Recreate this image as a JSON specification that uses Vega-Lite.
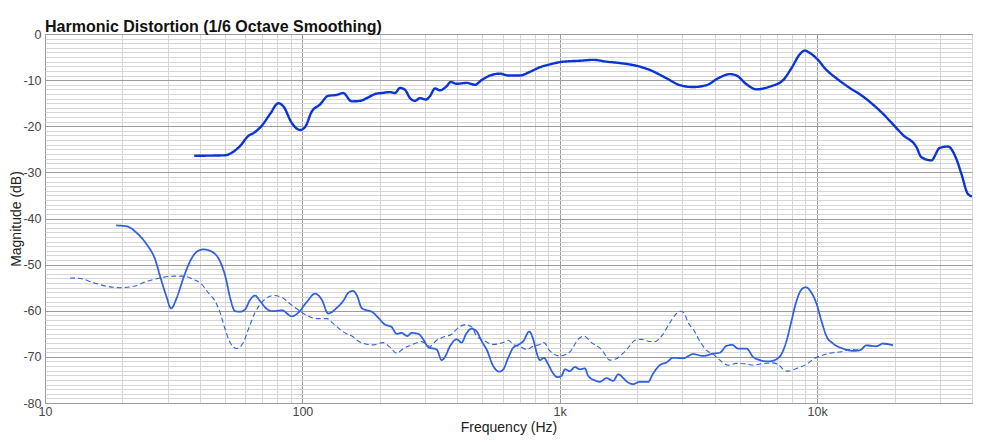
{
  "$schema": "https://vega.github.io/schema/vega-lite/v6.json",
  "width": 927,
  "height": 369,
  "autosize": {"type": "none"},
  "padding": {"left": 45, "top": 34, "right": 32, "bottom": 39},
  "background": "white",
  "config": {
    "view": {"stroke": "#8a8a8a", "strokeWidth": 1},
    "font": "Liberation Sans"
  },
  "title": {
    "text": "Harmonic Distortion (1/6 Octave Smoothing)",
    "anchor": "start",
    "frame": "group",
    "fontSize": 16,
    "fontWeight": "bold",
    "font": "Liberation Sans",
    "color": "#111111",
    "offset": -7
  },
  "data": {
    "values": [
      {"s":"H1","f":38,"db":-26.4},{"s":"H1","f":50,"db":-26.3},{"s":"H1","f":53,"db":-25.8},{"s":"H1","f":57,"db":-24.4},{"s":"H1","f":62,"db":-22.0},{"s":"H1","f":64.5,"db":-21.5},{"s":"H1","f":69.5,"db":-19.9},{"s":"H1","f":75,"db":-17.3},{"s":"H1","f":80.7,"db":-15.0},{"s":"H1","f":84.4,"db":-15.7},{"s":"H1","f":91,"db":-19.3},{"s":"H1","f":98,"db":-20.8},{"s":"H1","f":102.4,"db":-20.2},{"s":"H1","f":108.8,"db":-16.8},{"s":"H1","f":117,"db":-15.3},{"s":"H1","f":126,"db":-13.4},{"s":"H1","f":136,"db":-13.2},{"s":"H1","f":144,"db":-12.8},{"s":"H1","f":155.5,"db":-14.6},{"s":"H1","f":167.5,"db":-14.5},{"s":"H1","f":178,"db":-13.9},{"s":"H1","f":192,"db":-13.0},{"s":"H1","f":203,"db":-12.8},{"s":"H1","f":219,"db":-12.6},{"s":"H1","f":229,"db":-12.8},{"s":"H1","f":239.5,"db":-11.7},{"s":"H1","f":250.5,"db":-12.1},{"s":"H1","f":262,"db":-13.9},{"s":"H1","f":274,"db":-14.5},{"s":"H1","f":286.5,"db":-13.9},{"s":"H1","f":302,"db":-14.2},{"s":"H1","f":313,"db":-13.5},{"s":"H1","f":327.6,"db":-11.8},{"s":"H1","f":342.5,"db":-12.2},{"s":"H1","f":364,"db":-11.3},{"s":"H1","f":377,"db":-10.4},{"s":"H1","f":398,"db":-10.8},{"s":"H1","f":435,"db":-10.6},{"s":"H1","f":469,"db":-11.0},{"s":"H1","f":497,"db":-10.0},{"s":"H1","f":536,"db":-9.0},{"s":"H1","f":586,"db":-8.6},{"s":"H1","f":631,"db":-9.0},{"s":"H1","f":700,"db":-9.0},{"s":"H1","f":766,"db":-8.2},{"s":"H1","f":838,"db":-7.2},{"s":"H1","f":916,"db":-6.6},{"s":"H1","f":1002,"db":-6.1},{"s":"H1","f":1095,"db":-5.9},{"s":"H1","f":1198,"db":-5.8},{"s":"H1","f":1349,"db":-5.6},{"s":"H1","f":1521,"db":-6.0},{"s":"H1","f":1713,"db":-6.3},{"s":"H1","f":1989,"db":-6.9},{"s":"H1","f":2240,"db":-7.8},{"s":"H1","f":2601,"db":-9.6},{"s":"H1","f":2930,"db":-11.1},{"s":"H1","f":3299,"db":-11.5},{"s":"H1","f":3720,"db":-11.1},{"s":"H1","f":4126,"db":-9.6},{"s":"H1","f":4581,"db":-8.7},{"s":"H1","f":4864,"db":-9.0},{"s":"H1","f":5318,"db":-10.9},{"s":"H1","f":5817,"db":-12.0},{"s":"H1","f":6551,"db":-11.4},{"s":"H1","f":7378,"db":-10.0},{"s":"H1","f":7955,"db":-7.4},{"s":"H1","f":8568,"db":-4.4},{"s":"H1","f":8959,"db":-3.6},{"s":"H1","f":9370,"db":-4.1},{"s":"H1","f":10000,"db":-5.4},{"s":"H1","f":10877,"db":-7.8},{"s":"H1","f":11894,"db":-9.6},{"s":"H1","f":13397,"db":-11.7},{"s":"H1","f":14872,"db":-13.3},{"s":"H1","f":16022,"db":-14.7},{"s":"H1","f":18044,"db":-17.3},{"s":"H1","f":19730,"db":-19.6},{"s":"H1","f":21576,"db":-21.9},{"s":"H1","f":24322,"db":-24.5},{"s":"H1","f":25432,"db":-26.7},{"s":"H1","f":27814,"db":-27.4},{"s":"H1","f":29956,"db":-24.7},{"s":"H1","f":32266,"db":-24.4},{"s":"H1","f":34782,"db":-27.1},{"s":"H1","f":36373,"db":-30.3},{"s":"H1","f":38589,"db":-34.7},{"s":"H1","f":40000,"db":-35.2},

      {"s":"H2","f":18.9,"db":-41.5},{"s":"H2","f":20.8,"db":-41.7},{"s":"H2","f":22.7,"db":-43.1},{"s":"H2","f":24.9,"db":-45.7},{"s":"H2","f":26.8,"db":-48.9},{"s":"H2","f":28,"db":-52.5},{"s":"H2","f":29.6,"db":-56.8},{"s":"H2","f":30.9,"db":-59.5},{"s":"H2","f":32.5,"db":-57.2},{"s":"H2","f":34.5,"db":-52.9},{"s":"H2","f":36.6,"db":-49.3},{"s":"H2","f":38.9,"db":-47.2},{"s":"H2","f":41.3,"db":-46.7},{"s":"H2","f":44.5,"db":-47.2},{"s":"H2","f":47.9,"db":-49.3},{"s":"H2","f":50.4,"db":-52.9},{"s":"H2","f":52.4,"db":-57.2},{"s":"H2","f":54.8,"db":-60.1},{"s":"H2","f":57.3,"db":-60.2},{"s":"H2","f":59.9,"db":-59.7},{"s":"H2","f":62.7,"db":-57.6},{"s":"H2","f":65.5,"db":-56.7},{"s":"H2","f":68.5,"db":-57.9},{"s":"H2","f":72.7,"db":-59.6},{"s":"H2","f":77.1,"db":-60.1},{"s":"H2","f":83.2,"db":-59.9},{"s":"H2","f":91,"db":-61.2},{"s":"H2","f":96.5,"db":-60.4},{"s":"H2","f":104,"db":-58.1},{"s":"H2","f":112,"db":-56.3},{"s":"H2","f":119,"db":-57.6},{"s":"H2","f":126,"db":-60.6},{"s":"H2","f":136,"db":-59.4},{"s":"H2","f":144,"db":-57.9},{"s":"H2","f":151,"db":-56.1},{"s":"H2","f":157,"db":-55.7},{"s":"H2","f":163,"db":-56.7},{"s":"H2","f":170,"db":-59.4},{"s":"H2","f":178,"db":-59.9},{"s":"H2","f":186,"db":-60.2},{"s":"H2","f":197,"db":-61.5},{"s":"H2","f":209.5,"db":-63.0},{"s":"H2","f":222,"db":-63.5},{"s":"H2","f":232.6,"db":-65.0},{"s":"H2","f":243,"db":-64.8},{"s":"H2","f":255.7,"db":-65.5},{"s":"H2","f":266,"db":-64.8},{"s":"H2","f":282,"db":-65.0},{"s":"H2","f":295,"db":-66.2},{"s":"H2","f":308.5,"db":-67.9},{"s":"H2","f":332.6,"db":-68.4},{"s":"H2","f":347.8,"db":-70.7},{"s":"H2","f":358.3,"db":-70.0},{"s":"H2","f":374.6,"db":-67.7},{"s":"H2","f":397.8,"db":-66.2},{"s":"H2","f":416,"db":-66.9},{"s":"H2","f":432,"db":-65.1},{"s":"H2","f":455,"db":-63.9},{"s":"H2","f":476,"db":-64.5},{"s":"H2","f":497.5,"db":-66.6},{"s":"H2","f":520,"db":-68.4},{"s":"H2","f":552,"db":-72.0},{"s":"H2","f":582,"db":-73.2},{"s":"H2","f":603.5,"db":-72.7},{"s":"H2","f":631,"db":-70.2},{"s":"H2","f":660,"db":-68.0},{"s":"H2","f":690,"db":-67.4},{"s":"H2","f":722,"db":-66.6},{"s":"H2","f":762,"db":-64.5},{"s":"H2","f":789,"db":-66.2},{"s":"H2","f":817,"db":-69.4},{"s":"H2","f":838,"db":-70.7},{"s":"H2","f":868,"db":-70.2},{"s":"H2","f":902,"db":-71.6},{"s":"H2","f":944,"db":-73.6},{"s":"H2","f":978,"db":-74.4},{"s":"H2","f":1017,"db":-74.1},{"s":"H2","f":1048,"db":-72.7},{"s":"H2","f":1095,"db":-73.1},{"s":"H2","f":1146,"db":-72.2},{"s":"H2","f":1198,"db":-72.7},{"s":"H2","f":1253,"db":-72.5},{"s":"H2","f":1290,"db":-74.1},{"s":"H2","f":1370,"db":-75.1},{"s":"H2","f":1432,"db":-75.4},{"s":"H2","f":1521,"db":-74.6},{"s":"H2","f":1614,"db":-75.2},{"s":"H2","f":1688,"db":-73.8},{"s":"H2","f":1713,"db":-73.9},{"s":"H2","f":1765,"db":-74.6},{"s":"H2","f":1819,"db":-75.3},{"s":"H2","f":1929,"db":-75.9},{"s":"H2","f":2048,"db":-75.4},{"s":"H2","f":2206,"db":-75.4},{"s":"H2","f":2307,"db":-73.6},{"s":"H2","f":2449,"db":-71.8},{"s":"H2","f":2601,"db":-71.2},{"s":"H2","f":2759,"db":-70.2},{"s":"H2","f":3017,"db":-70.3},{"s":"H2","f":3299,"db":-69.4},{"s":"H2","f":3609,"db":-69.8},{"s":"H2","f":3946,"db":-69.3},{"s":"H2","f":4190,"db":-69.1},{"s":"H2","f":4447,"db":-67.6},{"s":"H2","f":4677,"db":-67.4},{"s":"H2","f":4934,"db":-68.2},{"s":"H2","f":5318,"db":-68.2},{"s":"H2","f":5643,"db":-70.0},{"s":"H2","f":5991,"db":-70.7},{"s":"H2","f":6452,"db":-71.0},{"s":"H2","f":6848,"db":-70.7},{"s":"H2","f":7271,"db":-69.4},{"s":"H2","f":7605,"db":-66.6},{"s":"H2","f":7955,"db":-62.2},{"s":"H2","f":8318,"db":-57.9},{"s":"H2","f":8699,"db":-55.4},{"s":"H2","f":9038,"db":-54.9},{"s":"H2","f":9512,"db":-56.1},{"s":"H2","f":10000,"db":-58.8},{"s":"H2","f":10400,"db":-62.2},{"s":"H2","f":10877,"db":-65.5},{"s":"H2","f":11537,"db":-67.1},{"s":"H2","f":12615,"db":-68.2},{"s":"H2","f":13797,"db":-68.7},{"s":"H2","f":14646,"db":-68.6},{"s":"H2","f":15553,"db":-67.5},{"s":"H2","f":17007,"db":-67.7},{"s":"H2","f":18044,"db":-67.1},{"s":"H2","f":19730,"db":-67.5},

      {"s":"H3","f":12.5,"db":-52.9},{"s":"H3","f":13.7,"db":-53.0},{"s":"H3","f":15.4,"db":-53.9},{"s":"H3","f":17.4,"db":-54.7},{"s":"H3","f":19.6,"db":-55.0},{"s":"H3","f":22.1,"db":-54.7},{"s":"H3","f":24.9,"db":-53.6},{"s":"H3","f":28,"db":-52.9},{"s":"H3","f":31.6,"db":-52.5},{"s":"H3","f":34.5,"db":-52.5},{"s":"H3","f":37.7,"db":-53.2},{"s":"H3","f":40.7,"db":-54.3},{"s":"H3","f":43.1,"db":-56.1},{"s":"H3","f":45.8,"db":-57.9},{"s":"H3","f":47.9,"db":-60.4},{"s":"H3","f":50.1,"db":-64.0},{"s":"H3","f":52.4,"db":-66.9},{"s":"H3","f":55.6,"db":-68.2},{"s":"H3","f":59,"db":-66.9},{"s":"H3","f":61.7,"db":-64.0},{"s":"H3","f":65.5,"db":-60.4},{"s":"H3","f":70.6,"db":-57.8},{"s":"H3","f":77.1,"db":-56.7},{"s":"H3","f":83.2,"db":-57.1},{"s":"H3","f":89.6,"db":-58.5},{"s":"H3","f":97.9,"db":-60.1},{"s":"H3","f":105.5,"db":-61.2},{"s":"H3","f":113.7,"db":-61.7},{"s":"H3","f":124.4,"db":-61.7},{"s":"H3","f":131.9,"db":-62.8},{"s":"H3","f":142.2,"db":-64.3},{"s":"H3","f":146.5,"db":-64.8},{"s":"H3","f":157.8,"db":-65.7},{"s":"H3","f":166.5,"db":-66.7},{"s":"H3","f":188.7,"db":-67.4},{"s":"H3","f":206.3,"db":-66.9},{"s":"H3","f":219,"db":-67.9},{"s":"H3","f":232.6,"db":-69.2},{"s":"H3","f":246.7,"db":-68.2},{"s":"H3","f":266,"db":-67.4},{"s":"H3","f":290.8,"db":-66.7},{"s":"H3","f":313,"db":-67.7},{"s":"H3","f":332.6,"db":-66.4},{"s":"H3","f":352.9,"db":-65.7},{"s":"H3","f":380.3,"db":-65.1},{"s":"H3","f":403.5,"db":-63.7},{"s":"H3","f":428.3,"db":-63.0},{"s":"H3","f":454.8,"db":-63.5},{"s":"H3","f":475.7,"db":-65.5},{"s":"H3","f":504.6,"db":-66.4},{"s":"H3","f":551.7,"db":-67.3},{"s":"H3","f":603.5,"db":-66.9},{"s":"H3","f":631,"db":-66.4},{"s":"H3","f":659.8,"db":-67.3},{"s":"H3","f":700,"db":-67.7},{"s":"H3","f":743.6,"db":-68.4},{"s":"H3","f":789,"db":-67.7},{"s":"H3","f":838,"db":-67.3},{"s":"H3","f":868,"db":-66.9},{"s":"H3","f":916,"db":-68.7},{"s":"H3","f":1002,"db":-69.8},{"s":"H3","f":1095,"db":-68.9},{"s":"H3","f":1180,"db":-66.2},{"s":"H3","f":1241,"db":-65.5},{"s":"H3","f":1330,"db":-66.9},{"s":"H3","f":1455,"db":-68.4},{"s":"H3","f":1567,"db":-70.7},{"s":"H3","f":1663,"db":-70.4},{"s":"H3","f":1713,"db":-69.8},{"s":"H3","f":1765,"db":-69.2},{"s":"H3","f":1819,"db":-68.4},{"s":"H3","f":1873,"db":-67.6},{"s":"H3","f":1959,"db":-66.4},{"s":"H3","f":2080,"db":-66.2},{"s":"H3","f":2206,"db":-66.6},{"s":"H3","f":2343,"db":-66.7},{"s":"H3","f":2487,"db":-65.5},{"s":"H3","f":2679,"db":-62.6},{"s":"H3","f":2844,"db":-60.6},{"s":"H3","f":2948,"db":-60.1},{"s":"H3","f":3036,"db":-60.4},{"s":"H3","f":3155,"db":-62.6},{"s":"H3","f":3299,"db":-64.0},{"s":"H3","f":3503,"db":-66.6},{"s":"H3","f":3720,"db":-68.6},{"s":"H3","f":3946,"db":-69.4},{"s":"H3","f":4190,"db":-70.7},{"s":"H3","f":4512,"db":-71.8},{"s":"H3","f":4864,"db":-71.4},{"s":"H3","f":5238,"db":-71.5},{"s":"H3","f":5643,"db":-71.8},{"s":"H3","f":6083,"db":-71.5},{"s":"H3","f":6652,"db":-71.3},{"s":"H3","f":7055,"db":-71.6},{"s":"H3","f":7378,"db":-72.7},{"s":"H3","f":7717,"db":-73.1},{"s":"H3","f":8318,"db":-72.5},{"s":"H3","f":9094,"db":-71.6},{"s":"H3","f":9795,"db":-70.3},{"s":"H3","f":10551,"db":-69.6},{"s":"H3","f":11537,"db":-69.1},{"s":"H3","f":12436,"db":-68.9},{"s":"H3","f":13397,"db":-68.4},{"s":"H3","f":14646,"db":-68.5},{"s":"H3","f":15553,"db":-67.6},{"s":"H3","f":17007,"db":-67.7},{"s":"H3","f":18044,"db":-67.2},{"s":"H3","f":19730,"db":-67.5}
    ]
  },
  "mark": {"type": "line", "interpolate": "monotone", "strokeCap": "butt", "strokeJoin": "round"},
  "encoding": {
    "x": {
      "field": "f",
      "type": "quantitative",
      "scale": {"type": "log", "domain": [10, 40000], "nice": false},
      "axis": {
        "title": "Frequency (Hz)",
        "titleFont": "Liberation Sans",
        "titleFontSize": 14,
        "titleFontWeight": "normal",
        "titleColor": "#222222",
        "titlePadding": 3,
        "values": [10,20,30,40,50,60,70,80,90,100,200,300,400,500,600,700,800,900,1000,2000,3000,4000,5000,6000,7000,8000,9000,10000,20000,30000,40000],
        "labelExpr": "datum.value == 10 ? '10' : datum.value == 100 ? '100' : datum.value == 1000 ? '1k' : datum.value == 10000 ? '10k' : ''",
        "labelFont": "Liberation Sans",
        "labelFontSize": 12.5,
        "labelColor": "#444444",
        "labelFlush": false,
        "labelOverlap": false,
        "labelPadding": 2,
        "ticks": false,
        "domain": false,
        "grid": true,
        "gridWidth": 1,
        "gridOpacity": 1,
        "gridColor": {"condition": {"test": "datum.value == 10 || datum.value == 100 || datum.value == 1000 || datum.value == 10000", "value": "#9c9c9c"}, "value": "#d6d6d6"}
      }
    },
    "y": {
      "field": "db",
      "type": "quantitative",
      "scale": {"domain": [-80, 0], "nice": false},
      "axis": {
        "title": "Magnitude (dB)",
        "titleFont": "Liberation Sans",
        "titleFontSize": 14,
        "titleFontWeight": "normal",
        "titleColor": "#222222",
        "titlePadding": -1,
        "values": [-80,-79,-78,-77,-76,-75,-74,-73,-72,-71,-70,-69,-68,-67,-66,-65,-64,-63,-62,-61,-60,-59,-58,-57,-56,-55,-54,-53,-52,-51,-50,-49,-48,-47,-46,-45,-44,-43,-42,-41,-40,-39,-38,-37,-36,-35,-34,-33,-32,-31,-30,-29,-28,-27,-26,-25,-24,-23,-22,-21,-20,-19,-18,-17,-16,-15,-14,-13,-12,-11,-10,-9,-8,-7,-6,-5,-4,-3,-2,-1,0],
        "labelExpr": "datum.value % 10 == 0 ? ('' + datum.value) : ''",
        "labelFont": "Liberation Sans",
        "labelFontSize": 12.5,
        "labelColor": "#444444",
        "labelFlush": false,
        "labelOverlap": false,
        "labelPadding": 4,
        "ticks": false,
        "domain": false,
        "grid": true,
        "gridWidth": 1,
        "gridOpacity": 1,
        "gridColor": {"condition": {"test": "datum.value % 10 == 0", "value": "#9c9c9c"}, "value": "#d6d6d6"}
      }
    },
    "color": {
      "field": "s",
      "type": "nominal",
      "scale": {"domain": ["H1", "H2", "H3"], "range": ["#0b34d6", "#2f5fe2", "#2f5fe2"]},
      "legend": null
    },
    "strokeWidth": {
      "field": "s",
      "type": "nominal",
      "scale": {"domain": ["H1", "H2", "H3"], "range": [2.4, 1.1, 1.1]},
      "legend": null
    },
    "strokeDash": {
      "field": "s",
      "type": "nominal",
      "scale": {"domain": ["H1", "H2", "H3"], "range": [[1, 0], [1, 0], [5, 3]]},
      "legend": null
    }
  }
}
